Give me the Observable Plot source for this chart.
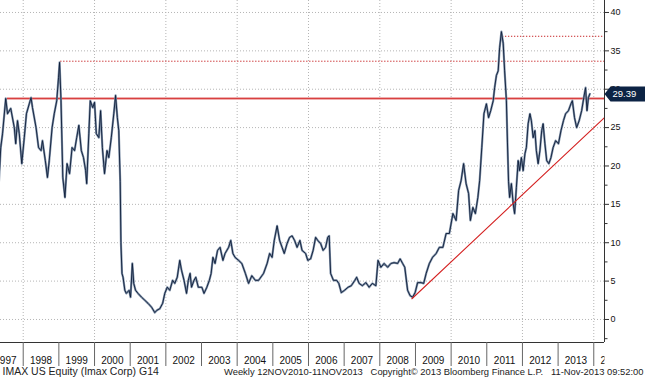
<!DOCTYPE html>
<html>
<head>
<meta charset="utf-8">
<script src="https://cdn.jsdelivr.net/npm/d3@7"></script>
<script src="https://cdn.jsdelivr.net/npm/@observablehq/plot@0.6"></script>
<style>
  body { margin: 0; background: #fff; }
  svg text { white-space: pre; }
</style>
</head>
<body>
<div id="chart"></div>
<script>
// Weekly price readings (decimal year, USD)
const times = [
  1997.32,1997.37,1997.42,1997.51,1997.56,1997.65,1997.75,1997.79,1997.84,1997.89,1997.96,
  1998.03,1998.09,1998.17,1998.22,1998.26,1998.36,1998.43,1998.50,1998.54,1998.62,1998.68,1998.73,1998.81,1998.87,1998.94,1998.99,
  1999.02,1999.06,1999.11,1999.17,1999.23,1999.30,1999.37,1999.44,1999.50,1999.56,1999.63,1999.69,1999.75,1999.78,1999.84,1999.88,1999.95,
  2000.00,2000.05,2000.12,2000.17,2000.22,2000.28,2000.35,2000.40,2000.47,2000.54,2000.59,2000.64,2000.68,2000.72,2000.74,2000.77,2000.80,2000.85,2000.89,2000.97,
  2001.01,2001.06,2001.10,2001.15,2001.22,2001.32,2001.41,2001.50,2001.60,2001.69,2001.75,2001.83,2001.91,2001.97,
  2002.04,2002.11,2002.19,2002.25,2002.32,2002.39,2002.44,2002.51,2002.58,2002.63,2002.68,2002.72,2002.79,2002.84,2002.91,
  2003.01,2003.07,2003.15,2003.22,2003.27,2003.32,2003.38,2003.45,2003.52,2003.60,2003.66,2003.76,2003.82,2003.88,2003.94,
  2004.04,2004.13,2004.23,2004.32,2004.41,2004.51,2004.60,2004.74,2004.84,2004.91,2004.98,
  2005.04,2005.12,2005.19,2005.26,2005.32,2005.40,2005.47,2005.54,2005.61,2005.68,2005.76,2005.82,2005.92,2005.98,
  2006.06,2006.13,2006.20,2006.26,2006.34,2006.41,2006.48,2006.54,2006.58,2006.62,2006.70,2006.79,2006.85,2006.92,
  2007.01,2007.11,2007.20,2007.30,2007.35,2007.42,2007.51,2007.61,2007.70,2007.79,2007.89,2007.95,
  2008.03,2008.12,2008.22,2008.31,2008.40,2008.50,2008.57,2008.64,2008.70,2008.78,2008.85,2008.92,2008.99,
  2009.06,2009.16,2009.23,2009.30,2009.39,2009.48,2009.58,2009.67,2009.77,2009.86,2009.95,
  2010.05,2010.14,2010.21,2010.28,2010.35,2010.42,2010.49,2010.54,2010.61,2010.68,2010.75,2010.80,2010.86,2010.92,2010.99,
  2011.05,2011.11,2011.18,2011.22,2011.27,2011.32,2011.36,2011.41,2011.46,2011.50,2011.55,2011.58,2011.61,2011.64,2011.69,2011.74,2011.78,2011.83,2011.88,2011.92,2011.97,
  2012.02,2012.07,2012.11,2012.16,2012.21,2012.25,2012.30,2012.35,2012.39,2012.44,2012.49,2012.54,2012.58,2012.63,2012.68,2012.74,2012.80,2012.86,2012.93,
  2013.01,2013.08,2013.15,2013.21,2013.29,2013.36,2013.40,2013.46,2013.52,2013.59,2013.66,2013.72,2013.77,2013.81,2013.85,2013.89
];
const prices = [
  18.0,22.4,24.2,28.8,26.8,27.5,25,22.9,25.9,24.2,20.3,
  23.7,26.8,28.1,28.9,27.6,25,22.4,22,23.3,20.7,18.5,20.7,25,26.8,28.5,31.5,
  33.5,28.5,18.5,15.9,20.3,19,22.4,22,23.7,25.3,22,21.1,19.4,17.7,24.2,28.5,27.6,
  28.3,24.2,23.7,27.2,22.4,19,22,21.1,23.7,26.8,29.2,26.3,24.6,18,10,6,5.5,3.8,3.4,3.8,
  2.9,7.3,4.7,3.8,3.4,2.9,2.5,2.1,1.6,0.9,1.2,1.4,2.1,3.4,
  4.2,3.8,5.1,4.7,5.5,7.7,6.4,5.1,3.4,5.1,6,4.2,5.1,5.5,4.2,
  4.2,3.4,4.2,5.1,6,8.1,7.3,9,9.4,7.7,8.6,9.4,10.3,8.6,8.1,
  7.7,7.3,6,4.7,5.7,5.1,5.1,6,7.3,8.6,8.1,
  10.3,12.2,10.3,9.4,8.6,9.9,10.7,10.9,10.3,9.4,10.3,9,8.6,7.7,
  7.9,9,10.7,10.3,9.9,9,9.4,10.7,10.9,6,5.1,5.1,4.7,3.5,
  3.8,4.2,4.4,5.1,5.5,4.7,4.4,4.8,4.2,4.7,4.4,7.7,
  6.8,7.3,6.8,7.3,7.4,7.3,7.9,7.3,6.8,3.8,3.1,2.9,3.5,
  4.8,4.8,4.7,6,7.3,8.1,8.6,9.4,9.4,11.2,11.2,
  13.8,12.9,16.8,18.1,20.3,17.7,16.4,12.9,14.6,13.8,15.9,18.1,22.4,26.8,28.1,
  26.3,27.2,28.5,30.2,31.8,32.4,35.4,37.5,36,32.4,28.5,23,18,15.9,17.7,15.1,13.8,17.2,20.7,19.4,21.1,
  19.4,21.6,22.4,25.5,26.8,25.9,23.7,24.6,22,20.3,22,24.6,25.5,22.9,20.7,20.3,21.1,22.4,23.3,
  22.9,24.6,25.9,26.8,27.2,28.1,28.5,26.3,25,25.9,27.2,28.9,30.2,27.2,28.9,29.39
];

const yearBounds = d3.range(1998, 2015);
const gridYears = [1998, 2000, 2002, 2004, 2006, 2008, 2010, 2012, 2014];
const yearLabels = ["1997","1998","1999","2000","2001","2002","2003","2004","2005","2006","2007","2008","2009","2010","2011","2012","2013","2014"];
const priceTicks = [0, 5, 10, 15, 20, 25, 30, 35, 40];
const minorTicks = [-2.5, 2.5, 7.5, 12.5, 17.5, 22.5, 27.5, 32.5, 37.5];
const lastPrice = 29.39;
const resistance = [{level: 28.8, from: 1997.56}];
const dottedLevels = [{level: 33.65, from: 1999.05}, {level: 36.9, from: 2011.44}];
const trendTimes = [2008.90, 2014.30];
const trendValues = [2.7, 26.3];
const xDomain = [1997.363, 2014.301];
const yDomain = [-3.0, 41.56];
const footerLeft = "IMAX US Equity (Imax Corp) G14";
const footerRight = "Weekly 12NOV2010-11NOV2013   Copyright\u00A9 2013 Bloomberg Finance L.P.   11-Nov-2013 09:52:00";

const series = times.map((t, i) => ({t, v: prices[i]}));
const trend = trendTimes.map((t, i) => ({t, v: trendValues[i]}));
const labelData = yearLabels.map(s => ({mid: +s + 0.5, label: s}));
const xEnd = xDomain[1];

const boxSymbol = {
  draw(ctx) {
    ctx.moveTo(0, 0);
    ctx.lineTo(6, -7.5);
    ctx.lineTo(44, -7.5);
    ctx.lineTo(44, 7.5);
    ctx.lineTo(6, 7.5);
    ctx.closePath();
  }
};

// clip the year labels at the price axis line
function clipAtAxis(index, scales, values, dimensions, context, next) {
  const g = next(index, scales, values, dimensions, context);
  const right = dimensions.width - dimensions.marginRight + 0.5;
  const svgNS = "http://www.w3.org/2000/svg";
  const wrap = document.createElementNS(svgNS, "g");
  const clip = document.createElementNS(svgNS, "clipPath");
  clip.setAttribute("id", "yl-clip");
  const rect = document.createElementNS(svgNS, "rect");
  rect.setAttribute("x", -20);
  rect.setAttribute("y", 0);
  rect.setAttribute("width", right + 20);
  rect.setAttribute("height", dimensions.height);
  clip.appendChild(rect);
  wrap.appendChild(clip);
  wrap.setAttribute("clip-path", "url(#yl-clip)");
  wrap.appendChild(g);
  return wrap;
}

const chart = Plot.plot({
  width: 645,
  height: 380,
  marginLeft: 0,
  marginRight: 41,
  marginTop: 0,
  marginBottom: 38,
  x: {domain: xDomain, label: null},
  y: {domain: yDomain, label: null},
  style: {fontFamily: "'Liberation Sans', Arial, sans-serif", background: "#fff", color: "#1a1a1a"},
  marks: [
    Plot.ruleY(priceTicks, {stroke: "#b5b5b5", strokeDasharray: "1,2"}),
    Plot.ruleX(gridYears, {stroke: "#b5b5b5", strokeDasharray: "1,2"}),
    Plot.ruleY(resistance, {y: "level", x1: "from", x2: () => xEnd, stroke: "#efb0b0", strokeWidth: 3}),
    Plot.ruleY(resistance, {y: "level", x1: "from", x2: () => xEnd, stroke: "#d84040", strokeWidth: 1.1}),
    Plot.ruleY(dottedLevels, {y: "level", x1: "from", x2: () => xEnd, stroke: "#c8282a", strokeWidth: 1, strokeDasharray: "1.3,1.7"}),
    Plot.line(series, {x: "t", y: "v", stroke: "#8293aa", strokeWidth: 2.2, clip: true}),
    Plot.line(series, {x: "t", y: "v", stroke: "#0c1c38", strokeWidth: 0.9, clip: true}),
    Plot.line(trend, {x: "t", y: "v", stroke: "#d42020", strokeWidth: 1.1}),
    Plot.ruleX([xEnd], {stroke: "#333"}),
    Plot.ruleY([yDomain[0]], {stroke: "#333"}),
    Plot.axisY(priceTicks, {anchor: "right", tickSize: 4, tickPadding: 2, fontSize: 9, stroke: "#333", fill: "#111", tickFormat: d => String(d)}),
    Plot.axisY(minorTicks, {anchor: "right", tickSize: 2.5, stroke: "#333", tickFormat: () => ""}),
    Plot.axisX(yearBounds, {anchor: "bottom", tickSize: 24, stroke: "#666", tickFormat: () => ""}),
    Plot.text(labelData, {x: "mid", text: "label", frameAnchor: "bottom", dy: 21, fontSize: 10, fill: "#111", render: clipAtAxis}),
    Plot.dot([{t: xEnd, v: lastPrice}], {x: "t", y: "v", symbol: boxSymbol, fill: "#0c2344", stroke: "none"}),
    Plot.text([{t: xEnd, v: lastPrice}], {x: "t", y: "v", text: d => d.v.toFixed(2), dx: 8, textAnchor: "start", fill: "#fff", fontSize: 9.5}),
    Plot.text([footerLeft], {text: d => d, frameAnchor: "bottom-left", dx: 2, dy: 32, textAnchor: "start", fontSize: 10.5, fill: "#222"}),
    Plot.text([footerRight], {text: d => d, frameAnchor: "bottom-right", dx: 39, dy: 32, textAnchor: "end", fontSize: 9.4, fill: "#222"})
  ]
});

document.getElementById("chart").appendChild(chart);
</script>
</body>
</html>
